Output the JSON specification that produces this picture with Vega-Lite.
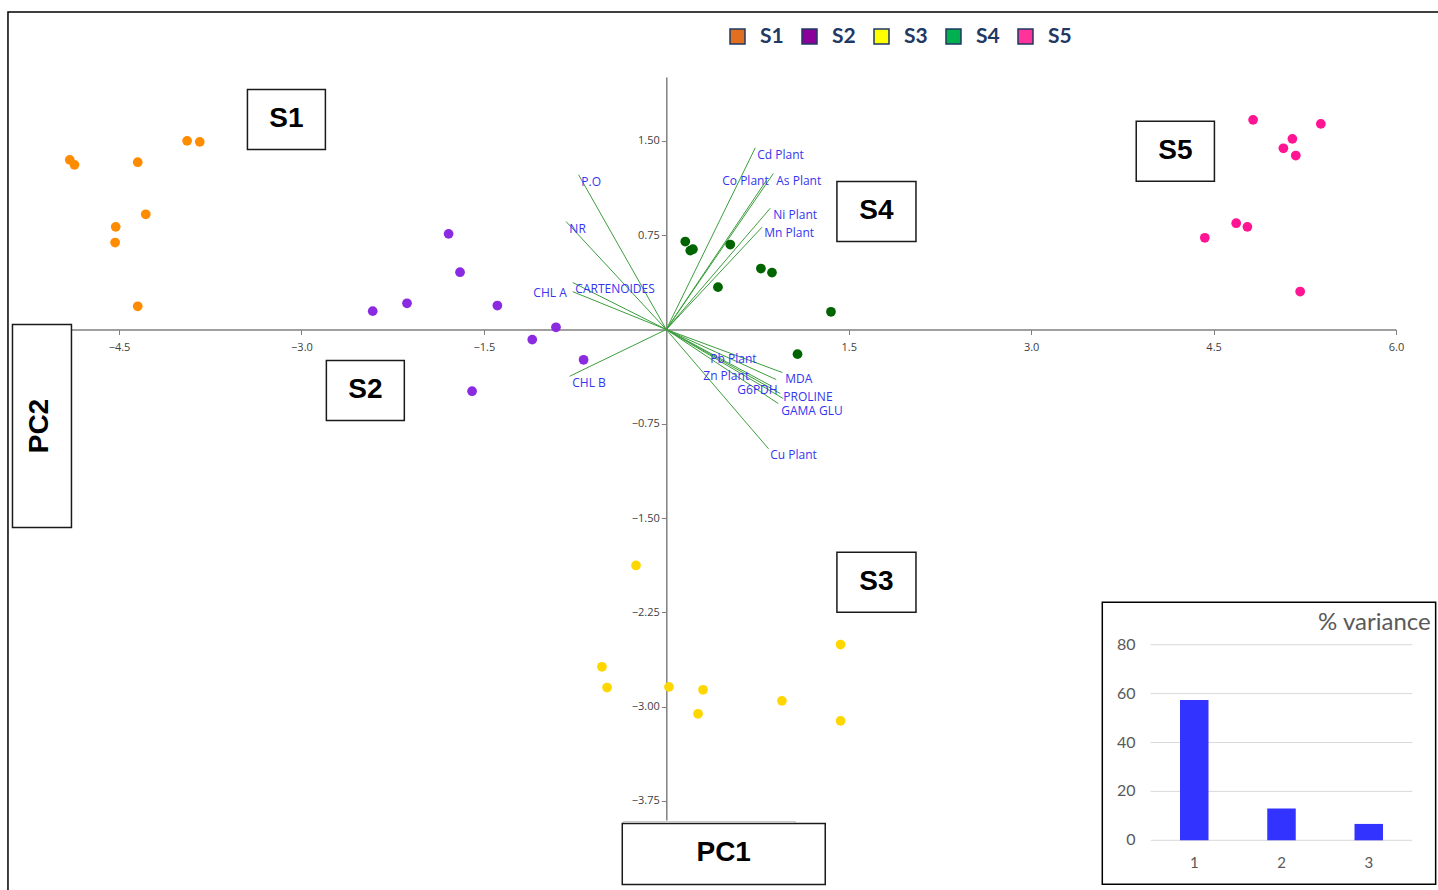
{
  "$schema": "https://vega.github.io/schema/vega-lite/v6.json",
  "width": 1326,
  "height": 743,
  "autosize": {"type": "none"},
  "padding": {"left": 70, "top": 77, "right": 42, "bottom": 70},
  "background": "white",
  "config": {"view": {"stroke": null}, "axis": {"grid": false, "title": null}},
  "datasets": {
    "points": [
      {"group": "S1", "pc1": -4.905, "pc2": 1.350}, {"group": "S1", "pc1": -4.866, "pc2": 1.310},
      {"group": "S1", "pc1": -4.346, "pc2": 1.331}, {"group": "S1", "pc1": -3.940, "pc2": 1.501},
      {"group": "S1", "pc1": -3.836, "pc2": 1.493}, {"group": "S1", "pc1": -4.280, "pc2": 0.917},
      {"group": "S1", "pc1": -4.527, "pc2": 0.817}, {"group": "S1", "pc1": -4.532, "pc2": 0.692},
      {"group": "S1", "pc1": -4.346, "pc2": 0.185},
      {"group": "S2", "pc1": -1.790, "pc2": 0.761}, {"group": "S2", "pc1": -1.696, "pc2": 0.456},
      {"group": "S2", "pc1": -2.414, "pc2": 0.146}, {"group": "S2", "pc1": -2.132, "pc2": 0.209},
      {"group": "S2", "pc1": -1.389, "pc2": 0.191}, {"group": "S2", "pc1": -0.907, "pc2": 0.018},
      {"group": "S2", "pc1": -1.102, "pc2": -0.080}, {"group": "S2", "pc1": -0.680, "pc2": -0.241},
      {"group": "S2", "pc1": -1.597, "pc2": -0.491},
      {"group": "S3", "pc1": -0.249, "pc2": -1.877}, {"group": "S3", "pc1": -0.529, "pc2": -2.683},
      {"group": "S3", "pc1": -0.487, "pc2": -2.848}, {"group": "S3", "pc1": 0.022, "pc2": -2.843},
      {"group": "S3", "pc1": 0.302, "pc2": -2.866}, {"group": "S3", "pc1": 0.261, "pc2": -3.057},
      {"group": "S3", "pc1": 0.951, "pc2": -2.954}, {"group": "S3", "pc1": 1.433, "pc2": -2.506},
      {"group": "S3", "pc1": 1.433, "pc2": -3.113},
      {"group": "S4", "pc1": 0.156, "pc2": 0.700}, {"group": "S4", "pc1": 0.197, "pc2": 0.628},
      {"group": "S4", "pc1": 0.219, "pc2": 0.639}, {"group": "S4", "pc1": 0.526, "pc2": 0.676},
      {"group": "S4", "pc1": 0.425, "pc2": 0.337}, {"group": "S4", "pc1": 0.778, "pc2": 0.485},
      {"group": "S4", "pc1": 0.869, "pc2": 0.453}, {"group": "S4", "pc1": 1.354, "pc2": 0.141},
      {"group": "S4", "pc1": 1.079, "pc2": -0.196},
      {"group": "S5", "pc1": 4.825, "pc2": 1.668}, {"group": "S5", "pc1": 5.382, "pc2": 1.636},
      {"group": "S5", "pc1": 5.148, "pc2": 1.517}, {"group": "S5", "pc1": 5.074, "pc2": 1.442},
      {"group": "S5", "pc1": 5.176, "pc2": 1.384}, {"group": "S5", "pc1": 4.686, "pc2": 0.846},
      {"group": "S5", "pc1": 4.778, "pc2": 0.817}, {"group": "S5", "pc1": 4.428, "pc2": 0.730},
      {"group": "S5", "pc1": 5.212, "pc2": 0.302}
    ],
    "loadings": [
      {"variable": "P.O", "ox": 0, "oy": 0, "lx": -0.721, "ly": 1.231, "tx": -0.699, "ty": 1.177},
      {"variable": "NR", "ox": 0, "oy": 0, "lx": -0.824, "ly": 0.859, "tx": -0.797, "ty": 0.803},
      {"variable": "CARTENOIDES", "ox": 0, "oy": 0, "lx": -0.769, "ly": 0.374, "tx": -0.748, "ty": 0.326},
      {"variable": "CHL A", "ox": 0, "oy": 0, "lx": -0.769, "ly": 0.301, "tx": -1.093, "ty": 0.294},
      {"variable": "CHL B", "ox": 0, "oy": 0, "lx": -0.795, "ly": -0.372, "tx": -0.773, "ty": -0.422},
      {"variable": "Cd Plant", "ox": 0, "oy": 0, "lx": 0.732, "ly": 1.446, "tx": 0.748, "ty": 1.392},
      {"variable": "Co Plant", "ox": 0, "oy": 0, "lx": 0.822, "ly": 1.185, "tx": 0.460, "ty": 1.185},
      {"variable": "As Plant", "ox": 0, "oy": 0, "lx": 0.880, "ly": 1.241, "tx": 0.904, "ty": 1.185},
      {"variable": "Ni Plant", "ox": 0, "oy": 0, "lx": 0.855, "ly": 0.965, "tx": 0.880, "ty": 0.915},
      {"variable": "Mn Plant", "ox": 0, "oy": 0, "lx": 0.787, "ly": 0.814, "tx": 0.806, "ty": 0.764},
      {"variable": "MDA", "ox": 0, "oy": 0, "lx": 0.954, "ly": -0.342, "tx": 0.978, "ty": -0.390},
      {"variable": "Pb Plant", "ox": 0, "oy": 0, "lx": 0.904, "ly": -0.398, "tx": 0.362, "ty": -0.232},
      {"variable": "Zn Plant", "ox": 0, "oy": 0, "lx": 0.871, "ly": -0.453, "tx": 0.304, "ty": -0.368},
      {"variable": "G6PDH", "ox": 0, "oy": 0, "lx": 0.937, "ly": -0.509, "tx": 0.584, "ty": -0.485},
      {"variable": "PROLINE", "ox": 0, "oy": 0, "lx": 0.962, "ly": -0.549, "tx": 0.962, "ty": -0.534},
      {"variable": "GAMA GLU", "ox": 0, "oy": 0, "lx": 0.921, "ly": -0.589, "tx": 0.945, "ty": -0.650},
      {"variable": "Cu Plant", "ox": 0, "oy": 0, "lx": 0.841, "ly": -0.949, "tx": 0.855, "ty": -1.002}
    ],
    "boxes": [
      {"label": "S1", "x1": -3.444, "x2": -2.803, "y1": 1.909, "y2": 1.432, "cx": -3.124, "cy": 1.671},
      {"label": "S2", "x1": -2.795, "x2": -2.154, "y1": -0.247, "y2": -0.724, "cx": -2.474, "cy": -0.485},
      {"label": "S4", "x1": 1.403, "x2": 2.053, "y1": 1.177, "y2": 0.700, "cx": 1.728, "cy": 0.939},
      {"label": "S3", "x1": 1.403, "x2": 2.053, "y1": -1.772, "y2": -2.249, "cx": 1.728, "cy": -2.010},
      {"label": "S5", "x1": 3.864, "x2": 4.507, "y1": 1.657, "y2": 1.180, "cx": 4.186, "cy": 1.418},
      {"label": "PC1", "x1": -0.362, "x2": 1.307, "y1": -3.930, "y2": -4.415, "cx": 0.472, "cy": -4.165}
    ],
    "pc2box": [
      {"label": "PC2", "x1": -5.376, "x2": -4.891, "y1": 0.040, "y2": -1.575, "cx": -5.146, "cy": -0.768}
    ],
    "frames": [
      {"name": "frame", "x1": -5.413, "x2": 6.7, "y1": 2.526, "y2": -4.8},
      {"name": "inset", "x1": 3.585, "x2": 6.326, "y1": -2.170, "y2": -4.413},
      {"name": "ghost", "x1": -0.353, "x2": 1.060, "y1": -3.914, "y2": -4.224}
    ],
    "variance": [
      {"pc": 1, "var": 57.4, "base": 0},
      {"pc": 2, "var": 13.0, "base": 0},
      {"pc": 3, "var": 6.7, "base": 0}
    ],
    "grid": [
      {"v": 0, "from": 0.5, "to": 3.5}, {"v": 20, "from": 0.5, "to": 3.5}, {"v": 40, "from": 0.5, "to": 3.5},
      {"v": 60, "from": 0.5, "to": 3.5}, {"v": 80, "from": 0.5, "to": 3.5}
    ],
    "insettitle": [{"title": "% variance", "px": 3.71, "py": 88.9}]
  },
  "layer": [
    {
      "layer": [
        {
          "data": {"name": "frames"},
          "transform": [{"filter": "datum.name === 'frame'"}],
          "mark": {"type": "rect", "fillOpacity": 0, "stroke": "#000000", "strokeWidth": 1.5},
          "encoding": {
            "x": {"field": "x1", "type": "quantitative",
                  "scale": {"domain": [-4.903, 6.0], "nice": false, "zero": false},
                  "axis": {"offset": -490.5, "values": [-4.5, -3, -1.5, 1.5, 3, 4.5, 6], "format": ".1f",
                           "domainColor": "#808080", "domainWidth": 1.5, "tickColor": "#808080", "tickSize": 5,
                           "labelColor": "#404040", "labelFont": "Open Sans", "labelFontSize": 11, "labelPadding": 7,
                           "labelFlush": false, "labelOverlap": false, "labelBound": false, "grid": false, "title": null}},
            "x2": {"field": "x2"},
            "y": {"field": "y1", "type": "quantitative",
                  "scale": {"domain": [-3.902, 2.009], "nice": false, "zero": false},
                  "axis": {"offset": -596.3, "values": [1.5, 0.75, -0.75, -1.5, -2.25, -3, -3.75], "format": ".2f",
                           "domainColor": "#808080", "domainWidth": 1.5, "tickColor": "#808080", "tickSize": 5,
                           "labelColor": "#404040", "labelFont": "Open Sans", "labelFontSize": 11, "labelPadding": 2,
                           "labelFlush": false, "labelOverlap": false, "labelBound": false, "grid": false, "title": null}},
            "y2": {"field": "y2"}
          }
        },
        {
          "data": {"name": "frames"},
          "transform": [{"filter": "datum.name === 'inset'"}],
          "mark": {"type": "rect", "fill": "#ffffff", "stroke": "#000000", "strokeWidth": 1.5},
          "encoding": {
            "x": {"field": "x1", "type": "quantitative"}, "x2": {"field": "x2"},
            "y": {"field": "y1", "type": "quantitative"}, "y2": {"field": "y2"}
          }
        },
        {
          "data": {"name": "frames"},
          "transform": [{"filter": "datum.name === 'ghost'"}],
          "mark": {"type": "rect", "fill": "#ffffff", "stroke": "#c8c8c8", "strokeWidth": 1},
          "encoding": {
            "x": {"field": "x1", "type": "quantitative"}, "x2": {"field": "x2"},
            "y": {"field": "y1", "type": "quantitative"}, "y2": {"field": "y2"}
          }
        },
        {
          "data": {"name": "loadings"},
          "mark": {"type": "rule", "color": "#3c9e3c", "strokeWidth": 1},
          "encoding": {
            "x": {"field": "ox", "type": "quantitative"},
            "y": {"field": "oy", "type": "quantitative"},
            "x2": {"field": "lx"},
            "y2": {"field": "ly"}
          }
        },
        {
          "data": {"name": "points"},
          "mark": {"type": "square", "filled": true, "size": 20, "stroke": "#1f3864", "strokeWidth": 0},
          "encoding": {
            "x": {"field": "pc1", "type": "quantitative"},
            "y": {"field": "pc2", "type": "quantitative"},
            "fill": {"field": "group", "type": "nominal",
                     "scale": {"domain": ["S1", "S2", "S3", "S4", "S5"],
                               "range": ["#e07020", "#8b0099", "#ffff00", "#00b050", "#ff3399"]},
                     "legend": {"orient": "none", "legendX": 657, "legendY": -51, "direction": "horizontal",
                                "title": null, "symbolType": "square", "symbolSize": 225,
                                "symbolStrokeColor": "#1f3864", "symbolStrokeWidth": 1.5, "symbolOpacity": 1,
                                "labelFont": "Lato", "labelFontSize": 21, "labelFontWeight": "bold",
                                "labelColor": "#1f3864", "labelOffset": 12, "columnPadding": 15, "padding": 0,
                                "zindex": 1}}
          }
        },
        {
          "data": {"name": "points"},
          "mark": {"type": "circle", "size": 95, "opacity": 1},
          "encoding": {
            "x": {"field": "pc1", "type": "quantitative"},
            "y": {"field": "pc2", "type": "quantitative"},
            "color": {"field": "group", "type": "nominal",
                      "scale": {"domain": ["S1", "S2", "S3", "S4", "S5"],
                                "range": ["#ff8c00", "#8a2be2", "#ffd700", "#006400", "#ff1493"]},
                      "legend": null}
          }
        },
        {
          "data": {"name": "loadings"},
          "mark": {"type": "text", "align": "left", "baseline": "middle", "font": "Open Sans", "fontSize": 12, "color": "#3535f0"},
          "encoding": {
            "x": {"field": "tx", "type": "quantitative"},
            "y": {"field": "ty", "type": "quantitative"},
            "text": {"field": "variable"}
          }
        },
        {
          "data": {"name": "boxes"},
          "mark": {"type": "rect", "fill": "#ffffff", "stroke": "#1a1a1a", "strokeWidth": 1.5},
          "encoding": {
            "x": {"field": "x1", "type": "quantitative"}, "x2": {"field": "x2"},
            "y": {"field": "y1", "type": "quantitative"}, "y2": {"field": "y2"}
          }
        },
        {
          "data": {"name": "boxes"},
          "mark": {"type": "text", "align": "center", "baseline": "middle", "font": "Liberation Sans", "fontWeight": "bold", "fontSize": 28, "color": "#000000"},
          "encoding": {
            "x": {"field": "cx", "type": "quantitative"},
            "y": {"field": "cy", "type": "quantitative"},
            "text": {"field": "label"}
          }
        },
        {
          "data": {"name": "pc2box"},
          "mark": {"type": "rect", "fill": "#ffffff", "stroke": "#1a1a1a", "strokeWidth": 1.5},
          "encoding": {
            "x": {"field": "x1", "type": "quantitative"}, "x2": {"field": "x2"},
            "y": {"field": "y1", "type": "quantitative"}, "y2": {"field": "y2"}
          }
        },
        {
          "data": {"name": "pc2box"},
          "mark": {"type": "text", "align": "center", "baseline": "middle", "angle": 270, "font": "Liberation Sans", "fontWeight": "bold", "fontSize": 28, "color": "#000000"},
          "encoding": {
            "x": {"field": "cx", "type": "quantitative"},
            "y": {"field": "cy", "type": "quantitative"},
            "text": {"field": "label"}
          }
        }
      ]
    },
    {
      "layer": [
        {
          "data": {"name": "grid"},
          "mark": {"type": "rule", "color": "#d9d9d9", "strokeWidth": 1},
          "encoding": {
            "x": {"field": "from", "type": "quantitative",
                  "scale": {"domain": [0, 4], "range": [1032, 1391], "nice": false, "zero": false},
                  "axis": null},
            "x2": {"field": "to"},
            "y": {"field": "v", "type": "quantitative",
                  "scale": {"domain": [0, 80], "range": [763.3, 567.7], "nice": false, "zero": true},
                  "axis": null}
          }
        },
        {
          "data": {"name": "grid"},
          "mark": {"type": "text", "align": "right", "baseline": "middle", "dx": -15, "font": "Lato", "fontSize": 16, "color": "#595959"},
          "encoding": {
            "x": {"field": "from", "type": "quantitative"},
            "y": {"field": "v", "type": "quantitative"},
            "text": {"field": "v", "type": "quantitative"}
          }
        },
        {
          "data": {"name": "variance"},
          "mark": {"type": "bar", "color": "#3333ff", "size": 28.5, "orient": "vertical"},
          "encoding": {
            "x": {"field": "pc", "type": "quantitative"},
            "y": {"field": "var", "type": "quantitative"}
          }
        },
        {
          "data": {"name": "variance"},
          "mark": {"type": "text", "align": "center", "baseline": "middle", "dy": 23, "font": "Lato", "fontSize": 15, "color": "#595959"},
          "encoding": {
            "x": {"field": "pc", "type": "quantitative"},
            "y": {"field": "base", "type": "quantitative"},
            "text": {"field": "pc", "type": "quantitative"}
          }
        },
        {
          "data": {"name": "insettitle"},
          "mark": {"type": "text", "align": "right", "baseline": "middle", "font": "Lato", "fontSize": 24, "color": "#595959"},
          "encoding": {
            "x": {"field": "px", "type": "quantitative"},
            "y": {"field": "py", "type": "quantitative"},
            "text": {"field": "title"}
          }
        }
      ]
    }
  ],
  "resolve": {
    "scale": {"x": "independent", "y": "independent"},
    "axis": {"x": "independent", "y": "independent"}
  }
}
